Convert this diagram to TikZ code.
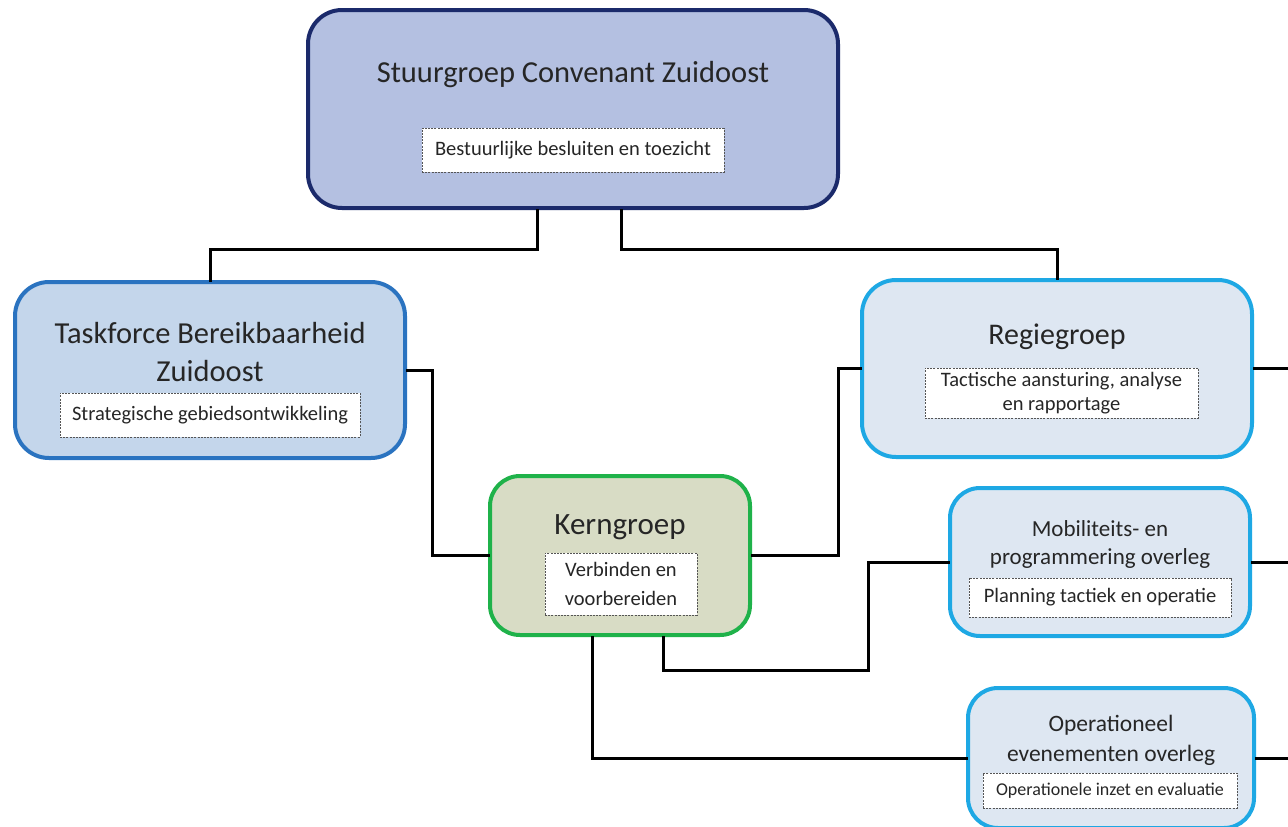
\documentclass[tikz,border=0pt]{standalone}
\usepackage{fontspec}
\setmainfont{Carlito}
\usetikzlibrary{calc}
\definecolor{navyB}{HTML}{1B2A6B}
\definecolor{navyF}{HTML}{B4C0E1}
\definecolor{midB}{HTML}{2A73C0}
\definecolor{midF}{HTML}{C4D6EB}
\definecolor{ltB}{HTML}{1EA8E4}
\definecolor{ltF}{HTML}{DEE7F2}
\definecolor{grB}{HTML}{1FB24A}
\definecolor{grF}{HTML}{D8DCC5}
\definecolor{txt}{HTML}{262626}
\definecolor{dashc}{HTML}{555555}
\tikzset{
  grp/.style={draw, rounded corners=34pt, line width=4pt, inner sep=0pt},
  ttl/.style={text=txt, align=center, inner sep=0pt},
  lbl/.style={draw=dashc, fill=white, line width=1pt, dash pattern=on 2pt off 1.2pt, text=txt, align=center, inner sep=0pt},
  conn/.style={line width=3pt, black, line cap=rect}
}
\begin{document}
\begin{tikzpicture}[x=1pt, y=-1pt]
\useasboundingbox[fill=white] (0,0) rectangle (1288,827);
% boxes
\node[grp, draw=navyB, fill=navyF, minimum width=530pt, minimum height=198pt] (stuur) at (573,109) {};
\node[grp, draw=midB, fill=midF, minimum width=390pt, minimum height=176pt] (task) at (210,370) {};
\node[grp, draw=ltB, fill=ltF, minimum width=390pt, minimum height=177pt] (regie) at (1057,368.5) {};
\node[grp, draw=grB, fill=grF, rounded corners=30pt, minimum width=260pt, minimum height=159pt] (kern) at (620,555.5) {};
\node[grp, draw=ltB, fill=ltF, rounded corners=30pt, minimum width=300pt, minimum height=148pt] (mob) at (1100,562) {};
\node[grp, draw=ltB, fill=ltF, rounded corners=30pt, minimum width=286pt, minimum height=140pt] (oper) at (1111,758) {};
% titles
\node[ttl, font=\fontsize{30.5}{36}\selectfont] (stuurT) at (573,75) {Stuurgroep Convenant Zuidoost};
\node[ttl, font=\fontsize{30.5}{38}\selectfont] (taskT) at (210,352) {Taskforce Bereikbaarheid\\Zuidoost};
\node[ttl, font=\fontsize{30}{36}\selectfont] (regieT) at (1057,337) {Regiegroep};
\node[ttl, font=\fontsize{31}{36}\selectfont] (kernT) at (620,527) {Kerngroep};
\node[ttl, font=\fontsize{23}{28}\selectfont] (mobT) at (1100,544) {Mobiliteits- en\\programmering overleg};
\node[ttl, font=\fontsize{23.5}{30}\selectfont] (operT) at (1111,740) {Operationeel\\evenementen overleg};
% labels
\node[lbl, font=\fontsize{20.5}{24}\selectfont, minimum width=302pt, minimum height=44pt] (stuurL) at (573,150) {Bestuurlijke besluiten en toezicht};
\node[lbl, font=\fontsize{20.5}{24}\selectfont, minimum width=300pt, minimum height=44pt] (taskL) at (210,415) {Strategische gebiedsontwikkeling};
\node[lbl, font=\fontsize{20.5}{24.5}\selectfont, minimum width=273pt, minimum height=50pt] (regieL) at (1061.5,393) {Tactische aansturing, analyse\\en rapportage};
\node[lbl, font=\fontsize{20.5}{29}\selectfont, minimum width=152pt, minimum height=62pt] (kernL) at (621,584) {Verbinden en\\voorbereiden};
\node[lbl, font=\fontsize{20.5}{24}\selectfont, minimum width=262pt, minimum height=39pt] (mobL) at (1100,597.5) {Planning tactiek en operatie};
\node[lbl, font=\fontsize{18}{22}\selectfont, minimum width=254pt, minimum height=35pt] (operL) at (1110,790.5) {Operationele inzet en evaluatie};
% junction coordinates
\coordinate (jl) at (537,249);
\coordinate (jr) at (621,249);
\coordinate (b1) at (432,0);
\coordinate (b2) at (838,0);
\coordinate (k1) at (868,670);
\coordinate (edge) at (1290,0);
% connectors
\draw[conn] ([xshift=-36pt]stuur.south) -- (jl) -| (task.north);
\draw[conn] ([xshift=48pt]stuur.south) -- (jr) -| (regie.north);
\draw[conn] (task.east) -| (b1 |- kern.west) -- (kern.west);
\draw[conn] (kern.east) -| (b2 |- regie.west) -- (regie.west);
\draw[conn] (regie.east) -- (regie.east -| edge);
\draw[conn] ([xshift=43pt]kern.south) |- (k1) |- (mob.west);
\draw[conn] (mob.east) -- (mob.east -| edge);
\draw[conn] ([xshift=-28pt]kern.south) |- (oper.west);
\draw[conn] (oper.east) -- (oper.east -| edge);
\end{tikzpicture}
\end{document}
